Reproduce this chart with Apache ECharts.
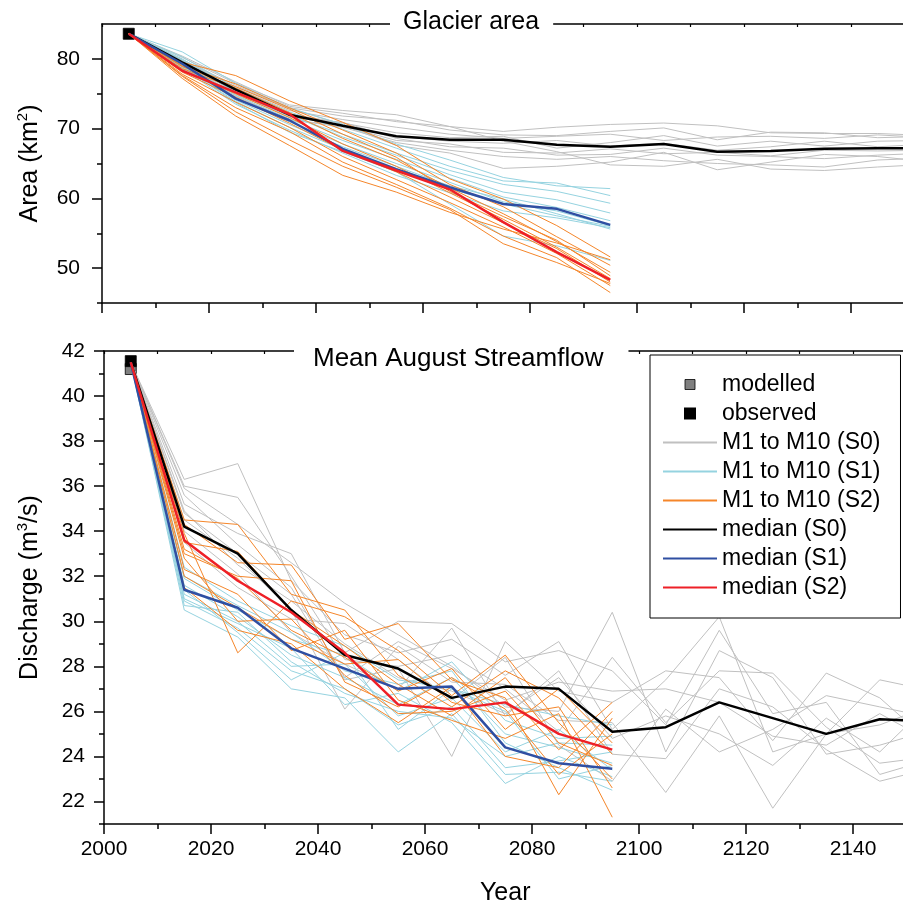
<!DOCTYPE html>
<html>
<head>
<meta charset="utf-8">
<script src="https://cdn.jsdelivr.net/npm/echarts@6.0.0/dist/echarts.min.js"></script>
<style>
  html, body { margin: 0; padding: 0; background: #fff; }
  #chart { width: 903px; height: 909px; }
</style>
</head>
<body>
<div id="chart"></div>
<script>
// years: S0 runs to the end of the record, S1/S2 stop at 2095
const yearsS0 = [2005, 2015, 2025, 2035, 2045, 2055, 2065, 2075, 2085, 2095, 2105, 2115, 2125, 2135, 2145, 2155];
const yearsS12 = [2005, 2015, 2025, 2035, 2045, 2055, 2065, 2075, 2085, 2095];

// ---- Glacier area (km2) ----
const areaObserved = [[2005, 83.6]];
const areaMedianS0 = [83.6, 79.5, 75.6, 72.0, 70.4, 68.9, 68.4, 68.4, 67.7, 67.4, 67.8, 66.7, 66.8, 67.1, 67.2, 67.2];
const areaMedianS1 = [83.6, 79.3, 74.3, 71.2, 67.1, 64.2, 61.6, 59.2, 58.5, 56.2];
const areaMedianS2 = [83.6, 78.3, 75.2, 72.1, 66.8, 64.0, 61.3, 56.6, 52.3, 48.3];
const areaS0 = [
  [83.6, 80.2, 76.5, 73.4, 72.6, 72.0, 70.3, 69.6, 70.2, 70.6, 70.8, 70.4, 69.4, 69.3, 69.3, 69.0],
  [83.6, 79.8, 76.0, 73.0, 71.8, 71.2, 69.8, 69.1, 69.0, 69.6, 70.1, 68.4, 69.5, 69.4, 68.7, 68.9],
  [83.6, 79.4, 75.8, 72.6, 71.3, 70.2, 69.2, 68.6, 68.9, 69.2, 68.3, 68.8, 68.9, 68.6, 69.1, 68.7],
  [83.6, 79.0, 75.1, 72.1, 70.8, 69.4, 68.7, 68.9, 67.2, 68.0, 69.0, 67.5, 68.2, 67.5, 68.2, 68.3],
  [83.6, 79.9, 76.2, 72.9, 70.6, 68.9, 68.2, 67.9, 68.3, 67.5, 67.9, 66.9, 67.4, 68.2, 67.4, 67.8],
  [83.6, 78.7, 74.9, 71.8, 70.4, 68.3, 67.8, 66.6, 66.5, 67.1, 66.4, 66.6, 66.1, 66.9, 66.8, 66.9],
  [83.6, 79.2, 75.3, 71.6, 70.9, 68.6, 67.4, 67.2, 66.2, 66.3, 67.2, 66.2, 66.0, 65.7, 66.2, 66.5],
  [83.6, 78.5, 74.6, 71.3, 70.2, 68.0, 66.9, 66.0, 65.6, 66.0, 65.4, 65.0, 64.8, 64.5, 65.5, 65.8],
  [83.6, 80.4, 76.7, 73.2, 72.2, 71.0, 70.3, 68.2, 66.7, 64.8, 64.6, 65.6, 64.2, 64.0, 64.5, 64.9],
  [83.6, 78.9, 74.7, 71.2, 70.5, 67.6, 66.5, 64.3, 64.6, 65.2, 66.6, 64.1, 65.2, 66.3, 66.0, 65.2]
];
const areaS1 = [
  [83.6, 81.0, 76.5, 73.0, 70.6, 67.8, 65.5, 63.0, 61.8, 61.4],
  [83.6, 80.3, 75.8, 72.4, 69.9, 67.2, 64.6, 62.5, 62.2, 60.4],
  [83.6, 79.8, 75.2, 71.8, 69.2, 66.5, 64.0, 62.0, 61.0, 59.3],
  [83.6, 79.5, 74.8, 71.4, 68.3, 65.6, 62.9, 60.2, 58.7, 56.8],
  [83.6, 79.1, 74.4, 71.0, 67.8, 65.0, 62.3, 59.5, 58.2, 56.1],
  [83.6, 79.0, 74.1, 70.6, 67.4, 64.6, 61.8, 59.9, 57.8, 55.6],
  [83.6, 78.8, 73.9, 70.2, 67.0, 64.2, 61.4, 59.2, 57.5, 56.0],
  [83.6, 78.6, 73.5, 69.8, 66.5, 63.3, 60.8, 58.2, 57.2, 55.8],
  [83.6, 78.9, 73.7, 69.5, 66.7, 63.8, 59.2, 54.6, 53.2, 51.1],
  [83.6, 80.0, 75.5, 72.0, 68.8, 66.2, 63.4, 60.9, 59.8, 57.9]
];
const areaS2 = [
  [83.6, 79.5, 77.6, 74.0, 70.9, 67.6, 62.8, 59.9, 56.1, 51.6],
  [83.6, 79.0, 76.4, 73.0, 69.8, 66.5, 62.0, 58.8, 54.5, 50.4],
  [83.6, 78.6, 75.8, 72.3, 68.6, 65.5, 61.5, 57.8, 53.8, 49.4],
  [83.6, 78.3, 75.0, 71.6, 67.8, 64.6, 60.8, 57.0, 53.0, 48.5],
  [83.6, 78.1, 74.5, 70.8, 66.9, 63.8, 60.2, 56.5, 52.8, 48.0],
  [83.6, 77.8, 73.8, 70.2, 66.0, 62.7, 59.4, 55.9, 52.1, 47.5],
  [83.6, 77.6, 73.0, 69.6, 65.2, 62.0, 58.6, 54.6, 51.5, 46.5],
  [83.6, 77.2, 71.8, 67.6, 63.3, 60.9, 58.0, 55.6, 53.6, 51.2],
  [83.6, 77.5, 72.4, 68.4, 64.6, 61.6, 58.4, 53.5, 50.8, 47.8],
  [83.6, 78.9, 76.0, 72.8, 69.2, 65.9, 61.0, 57.4, 54.0, 48.9]
];

// ---- Mean August streamflow (m3/s) ----
const flowModelled = [[2005, 41.2]];
const flowObserved = [[2005, 41.55]];
const flowMedianS0 = [41.5, 34.2, 33.0, 30.5, 28.5, 27.9, 26.6, 27.1, 27.0, 25.1, 25.3, 26.4, 25.7, 25.0, 25.65, 25.55];
const flowMedianS1 = [41.5, 31.4, 30.6, 28.8, 27.9, 27.0, 27.1, 24.4, 23.7, 23.45];
const flowMedianS2 = [41.5, 33.6, 31.8, 30.4, 28.6, 26.3, 26.1, 26.4, 25.0, 24.3];
const flowS0 = [
  [41.5, 36.3, 37.0, 31.8, 29.4, 28.6, 29.2, 27.6, 29.1, 25.2, 27.4, 30.2, 24.2, 25.0, 27.4, 26.9],
  [41.5, 35.9, 34.3, 32.6, 30.8, 29.4, 28.0, 26.2, 26.0, 30.4, 24.2, 28.7, 27.5, 24.1, 24.5, 25.2],
  [41.5, 35.2, 33.9, 33.0, 28.6, 30.0, 29.9, 28.2, 28.7, 27.8, 25.4, 29.6, 25.9, 26.4, 23.2, 23.9],
  [41.5, 34.8, 33.0, 31.2, 27.4, 27.9, 24.0, 29.1, 26.9, 26.4, 27.8, 27.5, 24.7, 27.7, 26.6, 24.5],
  [41.5, 34.5, 32.8, 30.5, 26.1, 28.9, 27.3, 27.2, 25.6, 25.5, 22.4, 25.8, 21.7, 25.0, 25.4, 26.3],
  [41.5, 34.0, 32.1, 29.5, 28.1, 27.0, 29.7, 25.8, 27.8, 24.1, 23.9, 27.0, 26.2, 24.3, 22.9, 23.5],
  [41.5, 33.5, 31.5, 30.1, 29.9, 28.3, 26.5, 28.4, 24.5, 22.9, 26.1, 24.2, 25.2, 26.7, 26.2, 25.7],
  [41.5, 35.6, 33.4, 31.5, 27.5, 29.1, 27.9, 26.5, 27.3, 26.9, 27.0, 26.4, 24.9, 24.5, 25.9, 24.6],
  [41.5, 34.9, 32.5, 30.9, 29.0, 27.5, 26.9, 25.9, 27.5, 24.8, 25.8, 25.0, 23.6, 25.7, 24.2, 26.5],
  [41.5, 36.0, 35.5, 32.0, 28.3, 28.0, 28.5, 27.0, 25.1, 28.4, 25.5, 27.8, 27.7, 25.3, 23.7, 24.0]
];
const flowS1 = [
  [41.5, 32.4, 30.9, 29.8, 28.9, 27.4, 27.0, 26.3, 25.8, 25.4],
  [41.5, 31.9, 30.5, 29.2, 28.5, 26.9, 28.2, 25.6, 24.8, 24.9],
  [41.5, 31.6, 30.2, 28.5, 27.5, 26.3, 27.5, 25.0, 24.4, 23.7],
  [41.5, 31.2, 30.0, 28.0, 28.1, 25.8, 26.6, 24.2, 25.2, 23.4],
  [41.5, 30.9, 29.7, 27.8, 27.0, 25.4, 26.2, 23.5, 23.8, 24.2],
  [41.5, 30.5, 29.3, 27.0, 26.6, 24.2, 25.9, 23.2, 23.3, 22.9],
  [41.5, 31.0, 29.9, 28.8, 26.3, 26.8, 25.5, 22.8, 24.0, 23.1],
  [41.5, 32.0, 30.7, 29.5, 27.8, 27.2, 27.8, 24.6, 23.5, 22.5],
  [41.5, 31.4, 29.5, 27.4, 28.6, 25.2, 27.0, 26.0, 23.0, 23.6],
  [41.5, 30.7, 30.4, 28.2, 26.8, 26.0, 25.7, 24.0, 24.6, 24.5]
];
const flowS2 = [
  [41.5, 34.5, 34.3, 31.2, 30.5, 27.6, 26.2, 27.8, 26.6, 24.1],
  [41.5, 34.3, 32.6, 32.5, 29.2, 29.9, 27.4, 26.6, 22.3, 25.7],
  [41.5, 33.9, 28.6, 30.9, 30.2, 28.7, 26.7, 28.5, 25.5, 23.0],
  [41.5, 33.2, 31.9, 29.6, 28.4, 26.9, 27.9, 25.2, 27.0, 24.6],
  [41.5, 32.8, 30.0, 30.1, 27.6, 25.9, 26.0, 26.9, 24.3, 26.4],
  [41.5, 32.3, 31.2, 28.7, 29.6, 26.5, 25.6, 24.8, 25.9, 21.3],
  [41.5, 31.5, 29.6, 29.0, 27.0, 25.5, 27.1, 24.0, 23.5, 26.0],
  [41.5, 33.5, 33.1, 30.5, 28.9, 27.2, 25.8, 27.5, 24.6, 23.6],
  [41.5, 32.0, 30.6, 29.2, 28.1, 28.3, 26.4, 25.8, 26.2, 22.6],
  [41.5, 33.0, 32.0, 31.8, 27.3, 26.2, 27.5, 26.1, 23.2, 25.0]
];

// tick values
const areaMajor = [50, 60, 70, 80];
const areaMinor = [45, 55, 65, 75];
const flowMajor = [22, 24, 26, 28, 30, 32, 34, 36, 38, 40, 42];
const flowMinor = [21, 23, 25, 27, 29, 31, 33, 35, 37, 39, 41];

const FONT = 'Liberation Sans, Arial, sans-serif';
const C_S0 = '#c0c0c0', C_S1 = '#95d3e0', C_S2 = '#f5862a';
const C_M0 = '#000000', C_M1 = '#2f4fa2', C_M2 = '#ee2027';

const chart = echarts.init(document.getElementById('chart'));

function pair(years, vals) {
  return years.map((y, i) => [y, vals[i]]);
}

function line(name, years, vals, color, width, panel) {
  return {
    name: name,
    type: 'line',
    xAxisIndex: panel * 2,
    yAxisIndex: panel * 2,
    data: pair(years, vals),
    symbol: 'none',
    lineStyle: { color: color, width: width },
    itemStyle: { color: color },
    animation: false,
    silent: true
  };
}

function square(name, data, color, panel) {
  return {
    name: name,
    type: 'scatter',
    xAxisIndex: panel * 2,
    yAxisIndex: panel * 2,
    data: data,
    symbol: 'rect',
    symbolSize: 11,
    itemStyle: { color: color, borderColor: '#000', borderWidth: 0.8, opacity: 1 },
    animation: false,
    silent: true
  };
}

function panelSeries(panel, s0, s1, s2, m0, m1, m2) {
  const out = [];
  s0.forEach(v => out.push(line('M1 to M10 (S0)', yearsS0, v, C_S0, 1, panel)));
  s1.forEach(v => out.push(line('M1 to M10 (S1)', yearsS12, v, C_S1, 1, panel)));
  s2.forEach(v => out.push(line('M1 to M10 (S2)', yearsS12, v, C_S2, 1, panel)));
  out.push(line('median (S0)', yearsS0, m0, C_M0, 2.5, panel));
  out.push(line('median (S1)', yearsS12, m1, C_M1, 2.5, panel));
  out.push(line('median (S2)', yearsS12, m2, C_M2, 2.5, panel));
  return out;
}

const axisLine = { show: true, lineStyle: { color: '#000', width: 1.5 } };

function xBottom(grid, showLabels, name) {
  return {
    type: 'value', gridIndex: grid, position: 'bottom',
    min: 2000, max: 2150, interval: 20,
    axisLine: axisLine,
    axisTick: { show: true, length: 10, lineStyle: { color: '#000', width: 1.5 } },
    minorTick: { show: true, splitNumber: 2, length: 5, lineStyle: { color: '#000', width: 1.5 } },
    axisLabel: {
      show: showLabels, color: '#000', fontSize: 21, fontFamily: FONT, margin: 15,
      showMaxLabel: false, formatter: v => String(v)
    },
    splitLine: { show: false },
    name: name || '', nameLocation: 'middle', nameGap: 57,
    nameTextStyle: { color: '#000', fontSize: 25, fontFamily: FONT }
  };
}

function xTop(grid) {
  return {
    type: 'value', gridIndex: grid, position: 'top',
    min: 2000, max: 2150, interval: 10,
    axisLine: axisLine,
    axisTick: { show: true, inside: true, length: 3, lineStyle: { color: '#000', width: 1.2 } },
    axisLabel: { show: false },
    splitLine: { show: false }
  };
}

function yMajor(grid, min, max, ticks, name, margin, gap) {
  return {
    type: 'value', gridIndex: grid, position: 'left',
    min: min, max: max,
    axisLine: axisLine,
    axisTick: { show: true, length: 10, customValues: ticks, lineStyle: { color: '#000', width: 1.5 } },
    axisLabel: { color: '#000', fontSize: 21, fontFamily: FONT, margin: margin, customValues: ticks },
    splitLine: { show: false },
    name: name, nameLocation: 'middle', nameRotate: 90, nameGap: gap,
    nameTextStyle: {
      color: '#000', fontSize: 25, fontFamily: FONT,
      rich: { sup: { fontSize: 15, fontFamily: FONT, color: '#000', verticalAlign: 'top', lineHeight: 30 } }
    }
  };
}

function yMinor(grid, min, max, ticks) {
  return {
    type: 'value', gridIndex: grid, position: 'left',
    min: min, max: max,
    axisLine: { show: false },
    axisTick: { show: true, length: 5, customValues: ticks, lineStyle: { color: '#000', width: 1.5 } },
    axisLabel: { show: false },
    splitLine: { show: false }
  };
}

const squareIcon = 'path://M-2,-2M0,0L10,0L10,10L0,10ZM12,12';
const noDot = { opacity: 0 };

const option = {
  backgroundColor: '#fff',
  animation: false,
  textStyle: { fontFamily: FONT },
  title: [
    {
      text: 'Glacier area', left: 390, top: 8,
      padding: [2, 14, 2, 13], backgroundColor: '#fff',
      textStyle: { fontSize: 25, fontWeight: 'normal', color: '#000', fontFamily: FONT }
    },
    {
      text: 'Mean August Streamflow', left: 294, top: 344,
      padding: [2, 25, 2, 19], backgroundColor: '#fff',
      textStyle: { fontSize: 26, fontWeight: 'normal', color: '#000', fontFamily: FONT }
    }
  ],
  legend: {
    orient: 'vertical', left: 650, top: 355,
    padding: [18, 20, 19, 12],
    itemWidth: 54, itemHeight: 14, itemGap: 6,
    backgroundColor: '#fff', borderColor: '#000', borderWidth: 1,
    textStyle: { fontSize: 23, color: '#000', fontFamily: FONT },
    selectedMode: false,
    data: [
      { name: 'modelled', icon: squareIcon, itemStyle: { color: '#7f7f7f', borderColor: '#000', borderWidth: 0.8, opacity: 1 } },
      { name: 'observed', icon: squareIcon, itemStyle: { color: '#000', opacity: 1 } },
      { name: 'M1 to M10 (S0)', itemStyle: noDot },
      { name: 'M1 to M10 (S1)', itemStyle: noDot },
      { name: 'M1 to M10 (S2)', itemStyle: noDot },
      { name: 'median (S0)', itemStyle: noDot },
      { name: 'median (S1)', itemStyle: noDot },
      { name: 'median (S2)', itemStyle: noDot }
    ]
  },
  grid: [
    { left: 102, top: 24, width: 802.5, height: 279, outerBoundsMode: 'none' },
    { left: 104, top: 351, width: 802.5, height: 473, outerBoundsMode: 'none' }
  ],
  xAxis: [xBottom(0, false), xTop(0), xBottom(1, true, 'Year'), xTop(1)],
  yAxis: [
    yMajor(0, 45, 85, areaMajor, 'Area (km{sup|2})', 22, 57),
    yMinor(0, 45, 85, areaMinor),
    yMajor(1, 21, 42, flowMajor, 'Discharge (m{sup|3}/s)', 19, 59),
    yMinor(1, 21, 42, flowMinor)
  ],
  series: [].concat(
    [square('observed', areaObserved, '#000', 0)],
    panelSeries(0, areaS0, areaS1, areaS2, areaMedianS0, areaMedianS1, areaMedianS2),
    [square('modelled', flowModelled, '#7f7f7f', 1), square('observed', flowObserved, '#000', 1)],
    panelSeries(1, flowS0, flowS1, flowS2, flowMedianS0, flowMedianS1, flowMedianS2)
  )
};

chart.setOption(option);
</script>
</body>
</html>
